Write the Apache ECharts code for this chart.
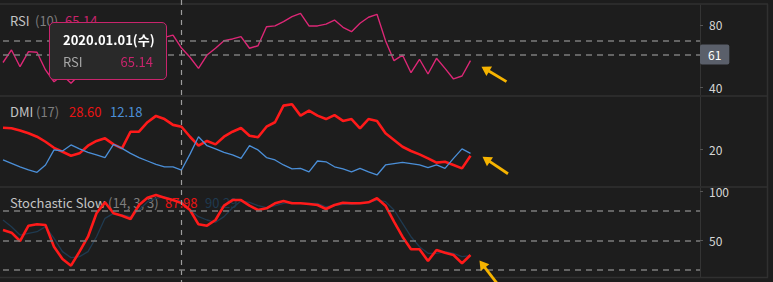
<!DOCTYPE html>
<html><head><meta charset="utf-8">
<script src="https://cdn.jsdelivr.net/npm/echarts@6/dist/echarts.min.js"></script>
<style>html,body{margin:0;padding:0;background:#1d1d1d;overflow:hidden}#c{width:773px;height:282px}</style>
</head><body><div id="c"></div><script>
// ---- data ----
const dates = ['2019.12.03','2019.12.04','2019.12.05','2019.12.06','2019.12.09','2019.12.10','2019.12.11','2019.12.12','2019.12.13','2019.12.16',
 '2019.12.17','2019.12.18','2019.12.19','2019.12.20','2019.12.23','2019.12.24','2019.12.25','2019.12.26','2019.12.27','2019.12.30',
 '2019.12.31','2020.01.01','2020.01.02','2020.01.03','2020.01.06','2020.01.07','2020.01.08','2020.01.09','2020.01.10','2020.01.13',
 '2020.01.14','2020.01.15','2020.01.16','2020.01.17','2020.01.20','2020.01.21','2020.01.22','2020.01.23','2020.01.24','2020.01.27',
 '2020.01.28','2020.01.29','2020.01.30','2020.01.31','2020.02.03','2020.02.04','2020.02.05','2020.02.06','2020.02.07','2020.02.10',
 '2020.02.11','2020.02.12','2020.02.13','2020.02.14','2020.02.17','2020.02.18'];
const rsi = [55.8,63.9,53.1,62.8,62.4,51.0,43.4,47.7,42.4,48,55,58,54,60,63,59,66,64,70,72,
 73.5,65.14,59.2,52.0,60.6,65.0,69.9,71.0,72.5,65.0,66.6,78.9,79.4,82.2,85.4,87.5,79.4,79.4,80.6,83.2,
 78.5,75.7,81.1,85.0,86.9,69.9,57.0,60.6,49.2,57.9,48.4,58.5,52.0,45.2,47.1,57.0];
const rsiLevels = [70];
const rsiSignal = 61;
const dmiPlus = [28.2,28.0,27.2,26.1,24.8,22.9,20.6,19.1,17.6,18.5,21.4,23.2,24.2,21.9,20.4,26.7,26.7,30.3,32.7,31.5,
 29.3,28.60,24.8,21.4,23.2,21.9,24.8,26.7,28.1,25.2,24.6,28.6,30.3,36.6,37.1,32.8,34.7,32.8,31.5,33.0,
 30.8,31.5,28.0,31.5,30.8,26.1,23.6,21.0,19.4,18.1,16.6,15.0,15.3,14.1,12.8,17.6];
const dmiMinus = [16.0,14.7,13.4,12.2,11.3,14.1,19.8,19.4,21.7,20.2,18.9,17.9,16.9,21.9,20.4,18.5,16.9,15.6,14.3,13.4,
 13.4,12.18,18.2,24.8,21.4,20.2,18.9,17.9,16.6,21.4,19.8,16.9,16.0,14.1,12.6,12.8,11.5,15.6,15.3,13.4,
 12.6,11.5,12.8,11.5,10.3,14.1,14.6,15.1,14.6,14.1,13.1,14.1,12.8,16.6,20.2,18.5];
const stochK = [60.6,57.9,49.4,65.0,66.4,65.7,43.6,31.1,24.3,38.6,53.8,77.6,88.8,77.6,75.2,71.8,86.1,93.5,96.2,93.5,
 91.1,87.98,81.0,66.4,65.0,70.8,85.4,91.1,91.1,85.4,81.0,82.7,87.8,90.1,87.8,87.8,87.1,86.1,82.0,86.1,
 88.4,87.8,87.8,88.8,92.9,85.4,69.1,53.8,41.0,41.0,29.1,40.3,37.5,35.2,26.8,35.2];
const stochD = [70.8,64.0,55.5,57.3,58.9,64.0,52.2,38.6,32.5,33.5,38.6,53.8,72.5,77.6,75.9,74.2,81.0,89.4,92.9,94.5,
 91.1,90.29,81.0,74.2,70.8,68.5,74.2,83.3,90.1,88.8,85.4,83.3,85.4,87.8,88.8,87.8,87.8,87.8,84.3,85.4,
 86.8,86.8,87.8,88.8,91.1,89.4,81.0,67.4,53.8,43.6,36.9,36.9,38.6,36.9,33.5,34.5];
const stochLevels = [80,50,20];
const rsiTicks = [40,80];
const dmiTicks = [20];
const stochTicks = [50,100];
const focusIndex = 21;

// ---- chart ----
const F = "'Noto Sans CJK KR','Noto Sans',sans-serif";
const PAD = 27;
const categories = dates.concat(Array.from({length:PAD},(_, i)=>'+' + (i+1)));
const C_RSI='#c8246c', C_RED='#ff1a1a', C_BLUE='#4b8fd8', C_DARK='#1f3a50';

function xAx(g){return {type:'category',gridIndex:g,data:categories,boundaryGap:false,
  axisLine:{show:false},axisTick:{show:false},axisLabel:{show:false},splitLine:{show:false}};}
function yAx(g,min,max,ticks){return {type:'value',gridIndex:g,position:'right',min:min,max:max,
  splitLine:{show:false},axisLine:{show:true,lineStyle:{color:'#343434',width:1}},
  axisTick:{show:true,length:3,customValues:ticks,lineStyle:{color:'#555'}},
  axisLabel:{customValues:ticks,color:'#d6d6d6',fontSize:12,margin:9,fontFamily:F}};}
const dash = {type:[6,5],color:'#7c7c7c',width:1.5};
function line(name,xi,data,color,width){return {name:name,type:'line',xAxisIndex:xi,yAxisIndex:xi,data:data,
  symbol:'none',smooth:false,lineStyle:{color:color,width:width},itemStyle:{color:color},z:2};}

const chart = echarts.init(document.getElementById('c'),null,{renderer:'svg'});

const rsiSeries = line('RSI',0,rsi,C_RSI,1.4);
rsiSeries.markLine = {silent:true,symbol:'none',lineStyle:dash,animation:false,
  data:[...rsiLevels.map(v=>({yAxis:v,label:{show:false}})),
   {yAxis:rsiSignal,label:{show:true,position:'end',distance:0,formatter:String(rsiSignal),color:'#ffffff',
     fontSize:12,fontFamily:F,backgroundColor:'#5a5f6a',padding:[4,8,4,8],borderRadius:2}}]};
const kSeries = line('%K',2,stochK,C_RED,2.6);
const dSeries = line('%D',2,stochD,C_DARK,1.3);
dSeries.markLine = {silent:true,symbol:'none',lineStyle:dash,animation:false,
  data:stochLevels.map(v=>({yAxis:v,label:{show:false}}))};

function legendTexts(){
  const t=(id,x,y,text,fill)=>({type:'text',id:id,x:x,y:y,z:0,silent:true,
    style:{text:text,fill:fill,fontSize:13,fontFamily:F,verticalAlign:'middle',align:'left'}});
  return [
    t('l1a',10,20,'RSI','#c4c4c4'), t('l1b',35,20,'(10)','#7e7e7e'), t('l1c',65,20,rsi[focusIndex].toFixed(2),C_RSI),
    t('l2a',10,111,'DMI','#c4c4c4'), t('l2b',36,111,'(17)','#7e7e7e'), t('l2c',69,111,dmiPlus[focusIndex].toFixed(2),'#e81414'),
    t('l2d',110,111,dmiMinus[focusIndex].toFixed(2),C_BLUE),
    t('l3a',10,202,'Stochastic Slow','#c4c4c4'), t('l3b',108,202,'(14, 3, 3)','#7e7e7e'),
    t('l3c',165,202,stochK[focusIndex].toFixed(2),'#e81414'), t('l3d',205,202,stochD[focusIndex].toFixed(2),C_DARK)
  ];
}
function separators(){
  const s={stroke:'#303030',lineWidth:1.5};
  const L=(id,x1,y1,x2,y2)=>({type:'line',id:id,z:1,silent:true,shape:{x1,y1,x2,y2},style:s});
  return [L('s0',0,4,768,4),L('s1',0,96,768,96),L('s2',0,187,768,187),L('s3',0,277.5,768,277.5),L('s4',767.5,4,767.5,277.5)];
}
function arrow(id,tip,tail){
  const dx=tip[0]-tail[0],dy=tip[1]-tail[1],Lh=Math.hypot(dx,dy),ux=dx/Lh,uy=dy/Lh,hl=9,hw=5.5;
  const bx=tip[0]-ux*hl,by=tip[1]-uy*hl,px=-uy,py=ux,col='#f6b400';
  return [{type:'line',id:id+'s',z:20,silent:true,shape:{x1:tail[0],y1:tail[1],x2:bx+ux,y2:by+uy},style:{stroke:col,lineWidth:2.8}},
    {type:'polygon',id:id+'h',z:20,silent:true,shape:{points:[tip,[bx+px*hw,by+py*hw],[bx-px*hw,by-py*hw]]},style:{fill:col}}];
}

const option = {
  backgroundColor:'#1d1d1d',
  animation:false,
  textStyle:{fontFamily:F},
  grid:[{left:3,right:73,top:5,height:90},{left:3,right:73,top:97,height:89},{left:3,right:73,top:188,height:89}],
  xAxis:[xAx(0),xAx(1),xAx(2)],
  yAxis:[yAx(0,34.84,92.9,rsiTicks),yAx(1,6.12,39.87,dmiTicks),yAx(2,12.8,103.36,stochTicks)],
  tooltip:{trigger:'axis',axisPointer:{type:'none'},alwaysShowContent:true,triggerOn:'none',
    position:[49,22],backgroundColor:'#292929',borderColor:C_RSI,borderWidth:1,padding:[8,13],
    transitionDuration:0,extraCssText:'box-shadow:none;border-radius:5px;width:90px;',
    formatter:function(){
      const d=dates[focusIndex];
      const dow=['일','월','화','수','목','금','토'][new Date(d.replace(/\./g,'-')+'T00:00:00Z').getUTCDay()];
      return '<div style="font-family:'+F.replace(/'/g,'&quot;')+';">'+
        '<div style="font-weight:bold;font-size:13px;line-height:18px;color:#ffffff;white-space:nowrap">'+d+'('+dow+')</div>'+
        '<div style="display:flex;justify-content:space-between;margin-top:4px;font-size:13px;line-height:18px">'+
        '<span style="color:#a8a8a8">RSI</span><span style="color:'+C_RSI+'">'+rsi[focusIndex].toFixed(2)+'</span></div></div>';
    }},
  series:[rsiSeries, line('+DI',1,dmiPlus,C_RED,2.6), line('-DI',1,dmiMinus,C_BLUE,1.3), dSeries, kSeries],
  graphic:{elements:[...separators(),...legendTexts()]}
};
chart.setOption(option);

// crosshair and annotation arrows, placed from the library's own scales
const cx = chart.convertToPixel({xAxisIndex:0},focusIndex);
const pR = chart.convertToPixel({seriesIndex:0},[rsi.length-1,rsi[rsi.length-1]]);
const pD = chart.convertToPixel({seriesIndex:1},[dmiPlus.length-1,dmiPlus[dmiPlus.length-1]]);
const pS = chart.convertToPixel({seriesIndex:4},[stochK.length-1,stochK[stochK.length-1]]);
const extra = [
  {type:'line',id:'xh',z:3,silent:true,shape:{x1:cx,y1:0,x2:cx,y2:282},style:{stroke:'#9c9c9c',lineWidth:1.2,lineDash:[5,5]}},
  ...arrow('a1',[pR[0]+11,pR[1]+6],[pR[0]+36,pR[1]+21]),
  ...arrow('a2',[pD[0]+12,pD[1]+1],[pD[0]+37.5,pD[1]+18]),
  ...arrow('a3',[pS[0]+9,pS[1]+5.5],[pS[0]+27,pS[1]+29])
];
chart.setOption({graphic:{elements:[...separators(),...legendTexts(),...extra]}});
chart.dispatchAction({type:'showTip',seriesIndex:0,dataIndex:focusIndex});
</script></body></html>
